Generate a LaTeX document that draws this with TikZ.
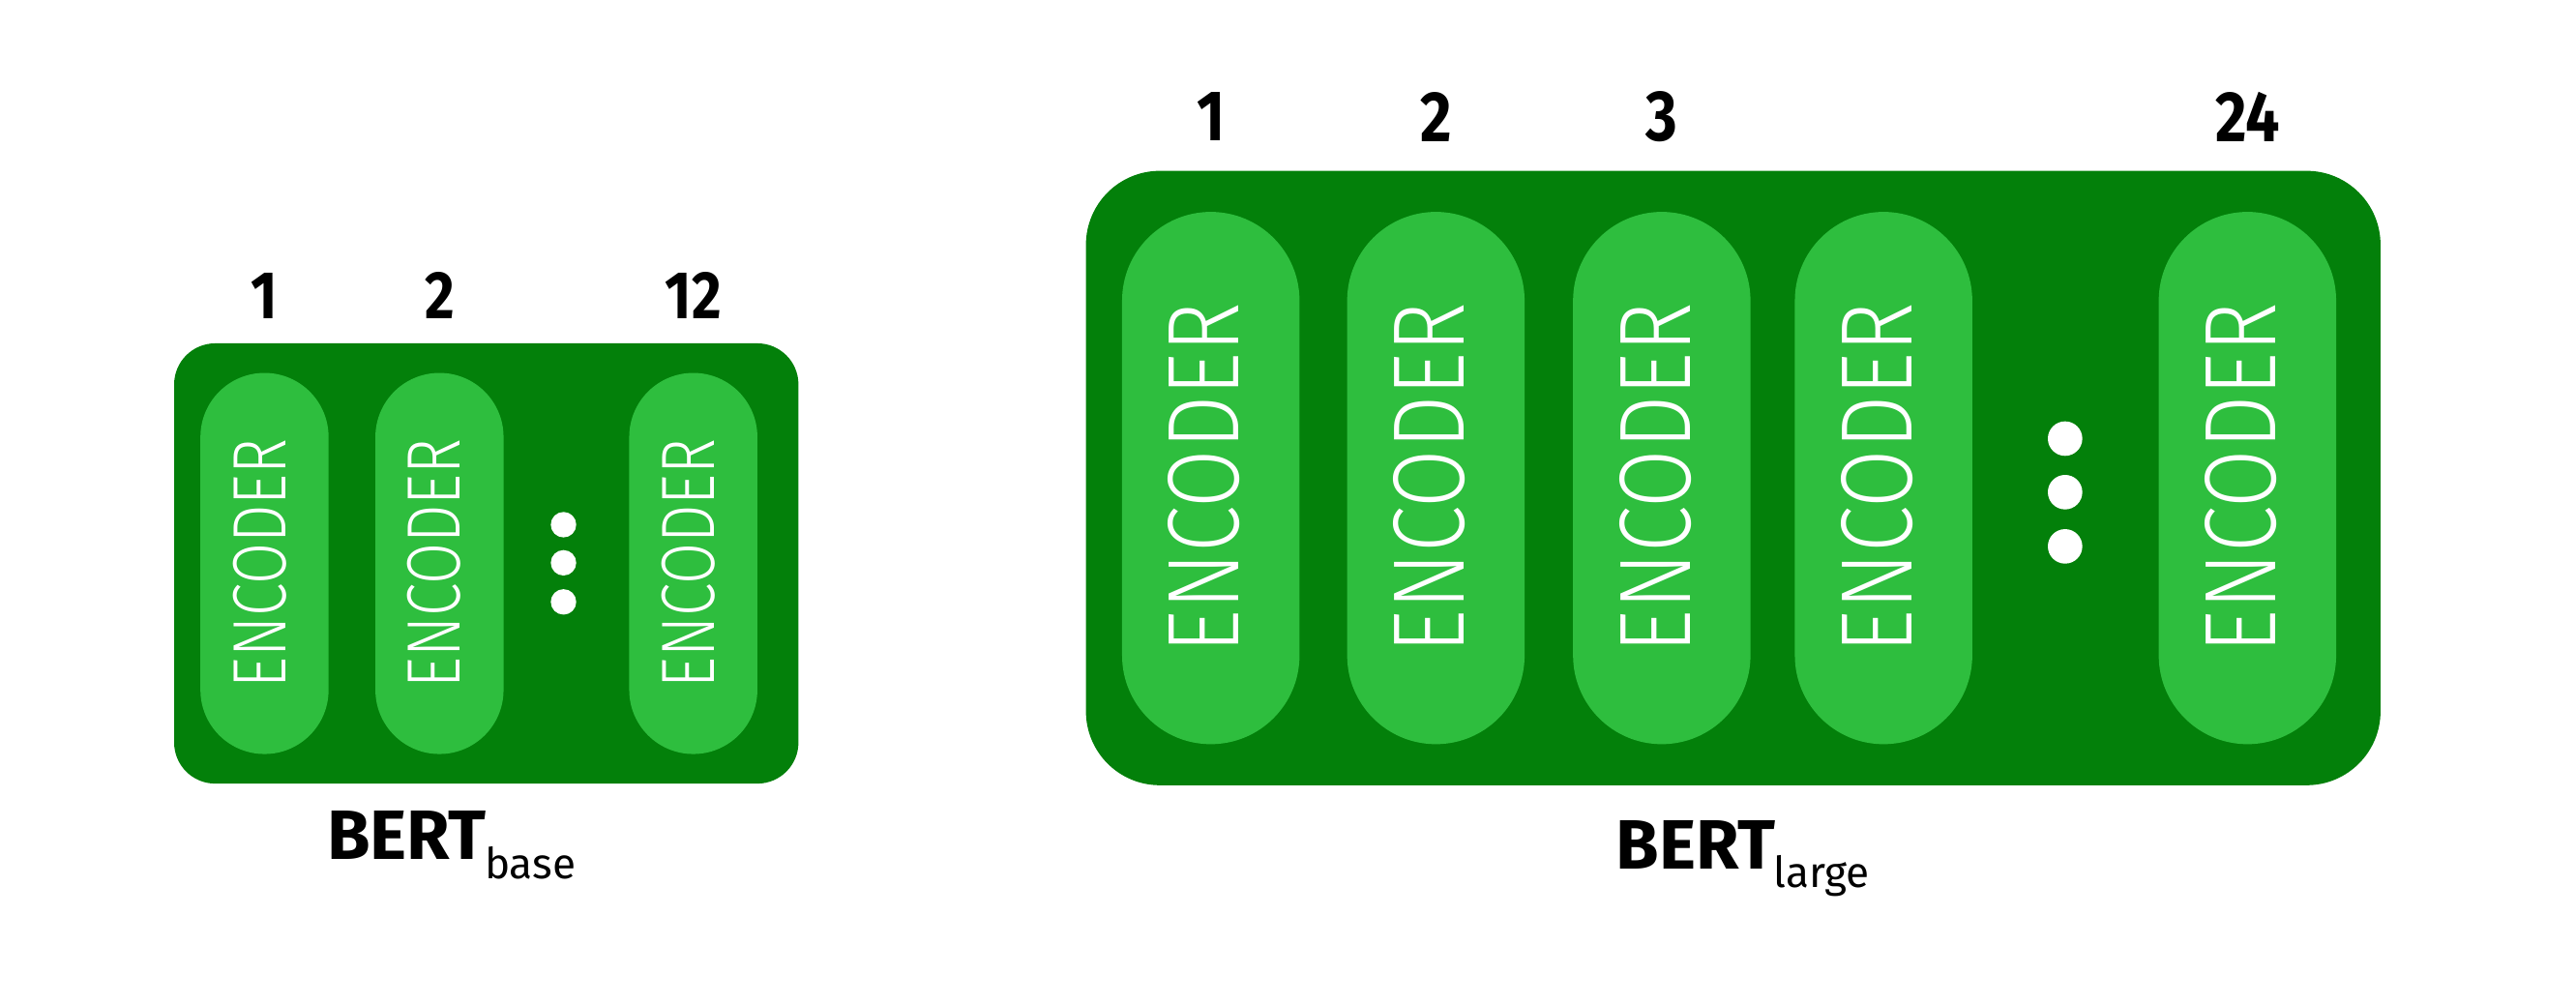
\documentclass[tikz,border=0pt]{standalone}
\usepackage{fontspec}
\setmainfont{Fira Sans}
\newfontfamily\encfont{Fira Sans}[UprightFont={* Light}]
\definecolor{boxgreen}{RGB}{3,128,10}
\definecolor{pillgreen}{RGB}{46,190,62}
\begin{document}
\begin{tikzpicture}[x=1pt,y=-1pt,
  outerbox/.style={fill=boxgreen,draw=none,inner sep=0pt},
  smallpill/.style={fill=pillgreen,draw=none,inner sep=0pt,minimum width=78pt,minimum height=232pt,rounded corners=39pt},
  largepill/.style={fill=pillgreen,draw=none,inner sep=0pt,minimum width=108pt,minimum height=324pt,rounded corners=54pt},
  enctext/.style={rotate=90,text=white,inner sep=0pt,font=\encfont},
  smallnum/.style={inner sep=0pt,font=\fontsize{41}{41}\selectfont\bfseries},
  largenum/.style={inner sep=0pt,font=\fontsize{43.5}{43.5}\selectfont\bfseries},
  dotmark/.style={circle,fill=white,draw=none,inner sep=0pt},
  bertlabel/.style={anchor=base west,inner sep=0pt,font=\fontsize{42.5}{42.5}\selectfont\bfseries}
]
\useasboundingbox (0,0) rectangle (1568,611);
\fill[white] (0,0) rectangle (1568,611);

% ---------- BERT base ----------
\node[outerbox,minimum width=380pt,minimum height=268pt,rounded corners=25pt] (basebox) at (296,343) {};
\node[smallpill] (bp1) at (161,343) {};
\node[smallpill] (bp2) at (267.5,343) {};
\node[smallpill] (bp3) at (422,343) {};
\node[enctext] (bt1) at ([xshift=-3pt]bp1.center) {\resizebox{152pt}{32pt}{ENCODER}};
\node[enctext] (bt2) at ([xshift=-3pt]bp2.center) {\resizebox{152pt}{32pt}{ENCODER}};
\node[enctext] (bt3) at ([xshift=-3pt]bp3.center) {\resizebox{152pt}{32pt}{ENCODER}};
\node[dotmark,minimum size=15.5pt] (bd1) at (343,319.4) {};
\node[dotmark,minimum size=15.5pt] (bd2) at (343,342.6) {};
\node[dotmark,minimum size=15.5pt] (bd3) at (343,366.4) {};
\node[smallnum] (bn1) at (161,180) {\scalebox{0.85}[1]{1}};
\node[smallnum] (bn2) at (267.5,180) {\scalebox{0.85}[1]{2}};
\node[smallnum] (bn3) at (422,180) {\scalebox{0.85}[1]{12}};
\node[bertlabel] (baselabel) at (199,523) {BERT\kern-1pt\raisebox{-12pt}{\fontsize{26}{26}\selectfont\mdseries base}};

% ---------- BERT large ----------
\node[outerbox,minimum width=788pt,minimum height=374pt,rounded corners=45pt] (largebox) at (1055,291) {};
\node[largepill] (lp1) at (737,291) {};
\node[largepill] (lp2) at (874,291) {};
\node[largepill] (lp3) at (1011.5,291) {};
\node[largepill] (lp4) at (1146.5,291) {};
\node[largepill] (lp5) at (1368,291) {};
\node[enctext] (lt1) at ([xshift=-4pt]lp1.center) {\resizebox{213pt}{43pt}{ENCODER}};
\node[enctext] (lt2) at ([xshift=-4pt]lp2.center) {\resizebox{213pt}{43pt}{ENCODER}};
\node[enctext] (lt3) at ([xshift=-4pt]lp3.center) {\resizebox{213pt}{43pt}{ENCODER}};
\node[enctext] (lt4) at ([xshift=-4pt]lp4.center) {\resizebox{213pt}{43pt}{ENCODER}};
\node[enctext] (lt5) at ([xshift=-4pt]lp5.center) {\resizebox{213pt}{43pt}{ENCODER}};
\node[dotmark,minimum size=21pt] (ld1) at (1257,267) {};
\node[dotmark,minimum size=21pt] (ld2) at (1257,299.6) {};
\node[dotmark,minimum size=21pt] (ld3) at (1257,332.6) {};
\node[largenum] (ln1) at (737,71) {\scalebox{0.85}[1]{1}};
\node[largenum] (ln2) at (874,71) {\scalebox{0.85}[1]{2}};
\node[largenum] (ln3) at (1011.5,71) {\scalebox{0.85}[1]{3}};
\node[largenum] (ln4) at (1368,71) {\scalebox{0.85}[1]{24}};
\node[bertlabel] (largelabel) at (983.5,529) {BERT\kern-1pt\raisebox{-11pt}{\fontsize{26}{26}\selectfont\mdseries large}};
\end{tikzpicture}
\end{document}
